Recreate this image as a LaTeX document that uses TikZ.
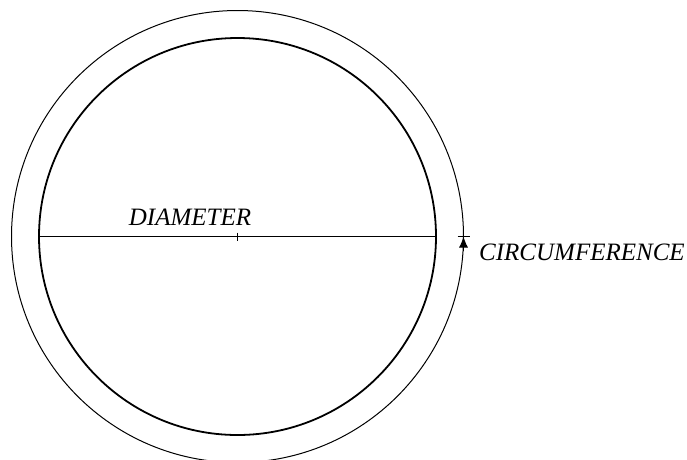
\documentclass[tikz,border=0pt]{standalone}
\usepackage{fontspec}
\setmainfont{Liberation Serif}
\usetikzlibrary{arrows.meta, calc, positioning}

\begin{document}
\begin{tikzpicture}[
    x=1pt, y=-1pt,
    every node/.style={font=\fontsize{25}{30}\selectfont\itshape},
    ring/.style={circle, draw, inner sep=0pt, outer sep=0pt, minimum size=#1},
    lbl/.style={inner sep=0pt},
    arrow/.style={-{Latex[length=11pt,width=9pt]}, line width=1pt}
]
\clip (0,0) rectangle (687,459);

\coordinate (ctr) at (237.5,236.5);
\node[ring=452pt, line width=1pt] (outer) at (ctr) {};
\node[ring=397pt, line width=1.8pt] (inner) at (ctr) {};

% diameter with centre mark
\draw[line width=1.5pt] (inner.west) -- (inner.east);
\draw[line width=1pt] ($(ctr)+(0,-4)$) -- ($(ctr)+(0,4)$);
\node[lbl, anchor=base] (diam) at (190,225) {DIAMETER};

% circumference marker
\draw[arrow] ($(outer.east)+(0,14)$) -- (outer.east);
\draw[line width=1pt] ($(outer.east)+(-6,0)$) -- ($(outer.east)+(6,0)$);
\node[lbl, anchor=base west] (circ) at (479,260) {CIRCUMFERENCE};

\end{tikzpicture}
\end{document}
